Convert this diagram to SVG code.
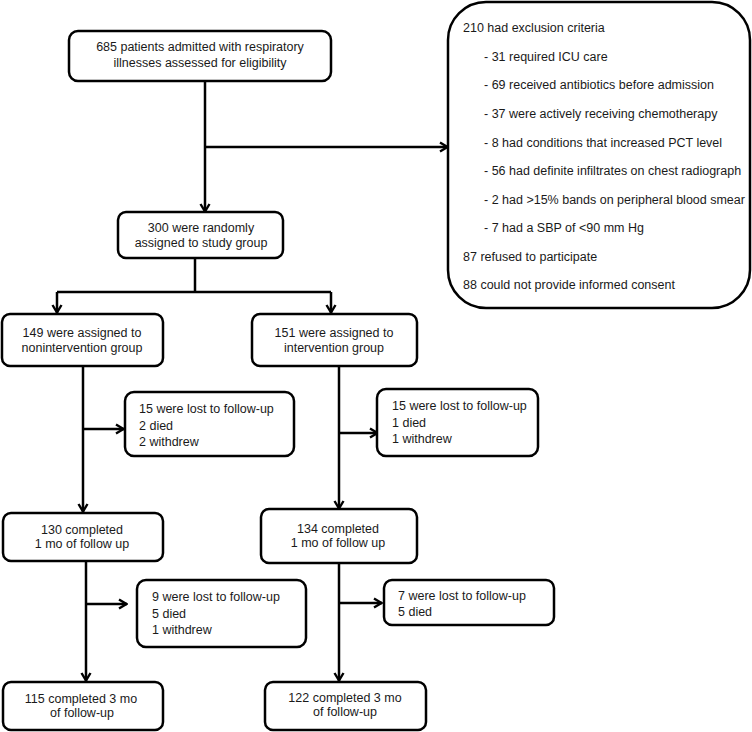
<svg xmlns="http://www.w3.org/2000/svg" width="752" height="732" viewBox="0 0 752 732">
<defs>
<style>
.box{fill:#fff;stroke:#000;stroke-width:2.5}
.t{font-family:"Liberation Sans",Arial,sans-serif;font-size:12.5px;fill:#1a1a1a}
.c{text-anchor:middle}
.ln{fill:none;stroke:#000;stroke-width:2.5}
</style>
<marker id="ah" viewBox="0 0 12 12" refX="11" refY="6" markerWidth="12" markerHeight="12" markerUnits="userSpaceOnUse" orient="auto">
<path d="M3,1.5 L10.5,6 L3,10.5" fill="none" stroke="#000" stroke-width="2.4"/>
</marker>
</defs>
<rect width="752" height="732" fill="#fff"/>
<g id="connectors">
<path class="ln" d="M205,81 V212" marker-end="url(#ah)"/>
<path class="ln" d="M205,147 H448" marker-end="url(#ah)"/>
<path class="ln" d="M195,258 V292"/>
<path class="ln" d="M57,292 H331"/>
<path class="ln" d="M57,292 V313" marker-end="url(#ah)"/>
<path class="ln" d="M331,292 V313" marker-end="url(#ah)"/>
<path class="ln" d="M83,366 V512" marker-end="url(#ah)"/>
<path class="ln" d="M83,429 H124" marker-end="url(#ah)"/>
<path class="ln" d="M339,366 V509" marker-end="url(#ah)"/>
<path class="ln" d="M339,433 H378" marker-end="url(#ah)"/>
<path class="ln" d="M86,561 V681" marker-end="url(#ah)"/>
<path class="ln" d="M86,604 H127" marker-end="url(#ah)"/>
<path class="ln" d="M339,563 V681" marker-end="url(#ah)"/>
<path class="ln" d="M339,603 H382" marker-end="url(#ah)"/>
</g>
<g id="n-assessed">
<rect class="box" x="69" y="31" width="262" height="50" rx="9"/>
<text class="t c" x="200" y="51">685 patients admitted with respiratory</text>
<text class="t c" x="200" y="67">illnesses assessed for eligibility</text>
</g>
<g id="n-excluded">
<rect class="box" x="448" y="2" width="302" height="306" rx="38"/>
<text class="t" x="463" y="32">210 had exclusion criteria</text>
<text class="t" x="484" y="61">- 31 required ICU care</text>
<text class="t" x="484" y="89">- 69 received antibiotics before admission</text>
<text class="t" x="484" y="118">- 37 were actively receiving chemotherapy</text>
<text class="t" x="484" y="147">- 8 had conditions that increased PCT level</text>
<text class="t" x="484" y="175">- 56 had definite infiltrates on chest radiograph</text>
<text class="t" x="484" y="204">- 2 had &gt;15% bands on peripheral blood smear</text>
<text class="t" x="484" y="232">- 7 had a SBP of &lt;90 mm Hg</text>
<text class="t" x="463" y="261">87 refused to participate</text>
<text class="t" x="463" y="289">88 could not provide informed consent</text>
</g>
<g id="n-randomized">
<rect class="box" x="118" y="212" width="165" height="46" rx="8"/>
<text class="t c" x="201" y="232">300 were randomly</text>
<text class="t c" x="201" y="247">assigned to study group</text>
</g>
<g id="n-nonint">
<rect class="box" x="2" y="314" width="161" height="52" rx="8"/>
<text class="t c" x="82" y="337">149 were assigned to</text>
<text class="t c" x="82" y="352">nonintervention group</text>
</g>
<g id="n-int">
<rect class="box" x="252" y="314" width="165" height="52" rx="8"/>
<text class="t c" x="334" y="337">151 were assigned to</text>
<text class="t c" x="334" y="352">intervention group</text>
</g>
<g id="n-lost1-left">
<rect class="box" x="125" y="392" width="169" height="64" rx="9"/>
<text class="t" x="139" y="413">15 were lost to follow-up</text>
<text class="t" x="139" y="430">2 died</text>
<text class="t" x="139" y="446">2 withdrew</text>
</g>
<g id="n-lost1-right">
<rect class="box" x="377" y="389" width="161" height="67" rx="9"/>
<text class="t" x="392" y="410">15 were lost to follow-up</text>
<text class="t" x="392" y="427">1 died</text>
<text class="t" x="392" y="443">1 withdrew</text>
</g>
<g id="n-1mo-left">
<rect class="box" x="3" y="513" width="160" height="48" rx="8"/>
<text class="t c" x="82" y="534">130 completed</text>
<text class="t c" x="82" y="548">1 mo of follow up</text>
</g>
<g id="n-1mo-right">
<rect class="box" x="261" y="509" width="156" height="54" rx="8"/>
<text class="t c" x="338" y="533">134 completed</text>
<text class="t c" x="338" y="547">1 mo of follow up</text>
</g>
<g id="n-lost2-left">
<rect class="box" x="137" y="580" width="169" height="67" rx="9"/>
<text class="t" x="152" y="601">9 were lost to follow-up</text>
<text class="t" x="152" y="618">5 died</text>
<text class="t" x="152" y="634">1 withdrew</text>
</g>
<g id="n-lost2-right">
<rect class="box" x="384" y="580" width="170" height="45" rx="8"/>
<text class="t" x="398" y="600">7 were lost to follow-up</text>
<text class="t" x="398" y="616">5 died</text>
</g>
<g id="n-3mo-left">
<rect class="box" x="3" y="682" width="160" height="48" rx="8"/>
<text class="t c" x="81" y="703">115 completed 3 mo</text>
<text class="t c" x="82" y="717">of follow-up</text>
</g>
<g id="n-3mo-right">
<rect class="box" x="265" y="682" width="161" height="48" rx="8"/>
<text class="t c" x="345" y="702">122 completed 3 mo</text>
<text class="t c" x="345" y="716">of follow-up</text>
</g>
</svg>
